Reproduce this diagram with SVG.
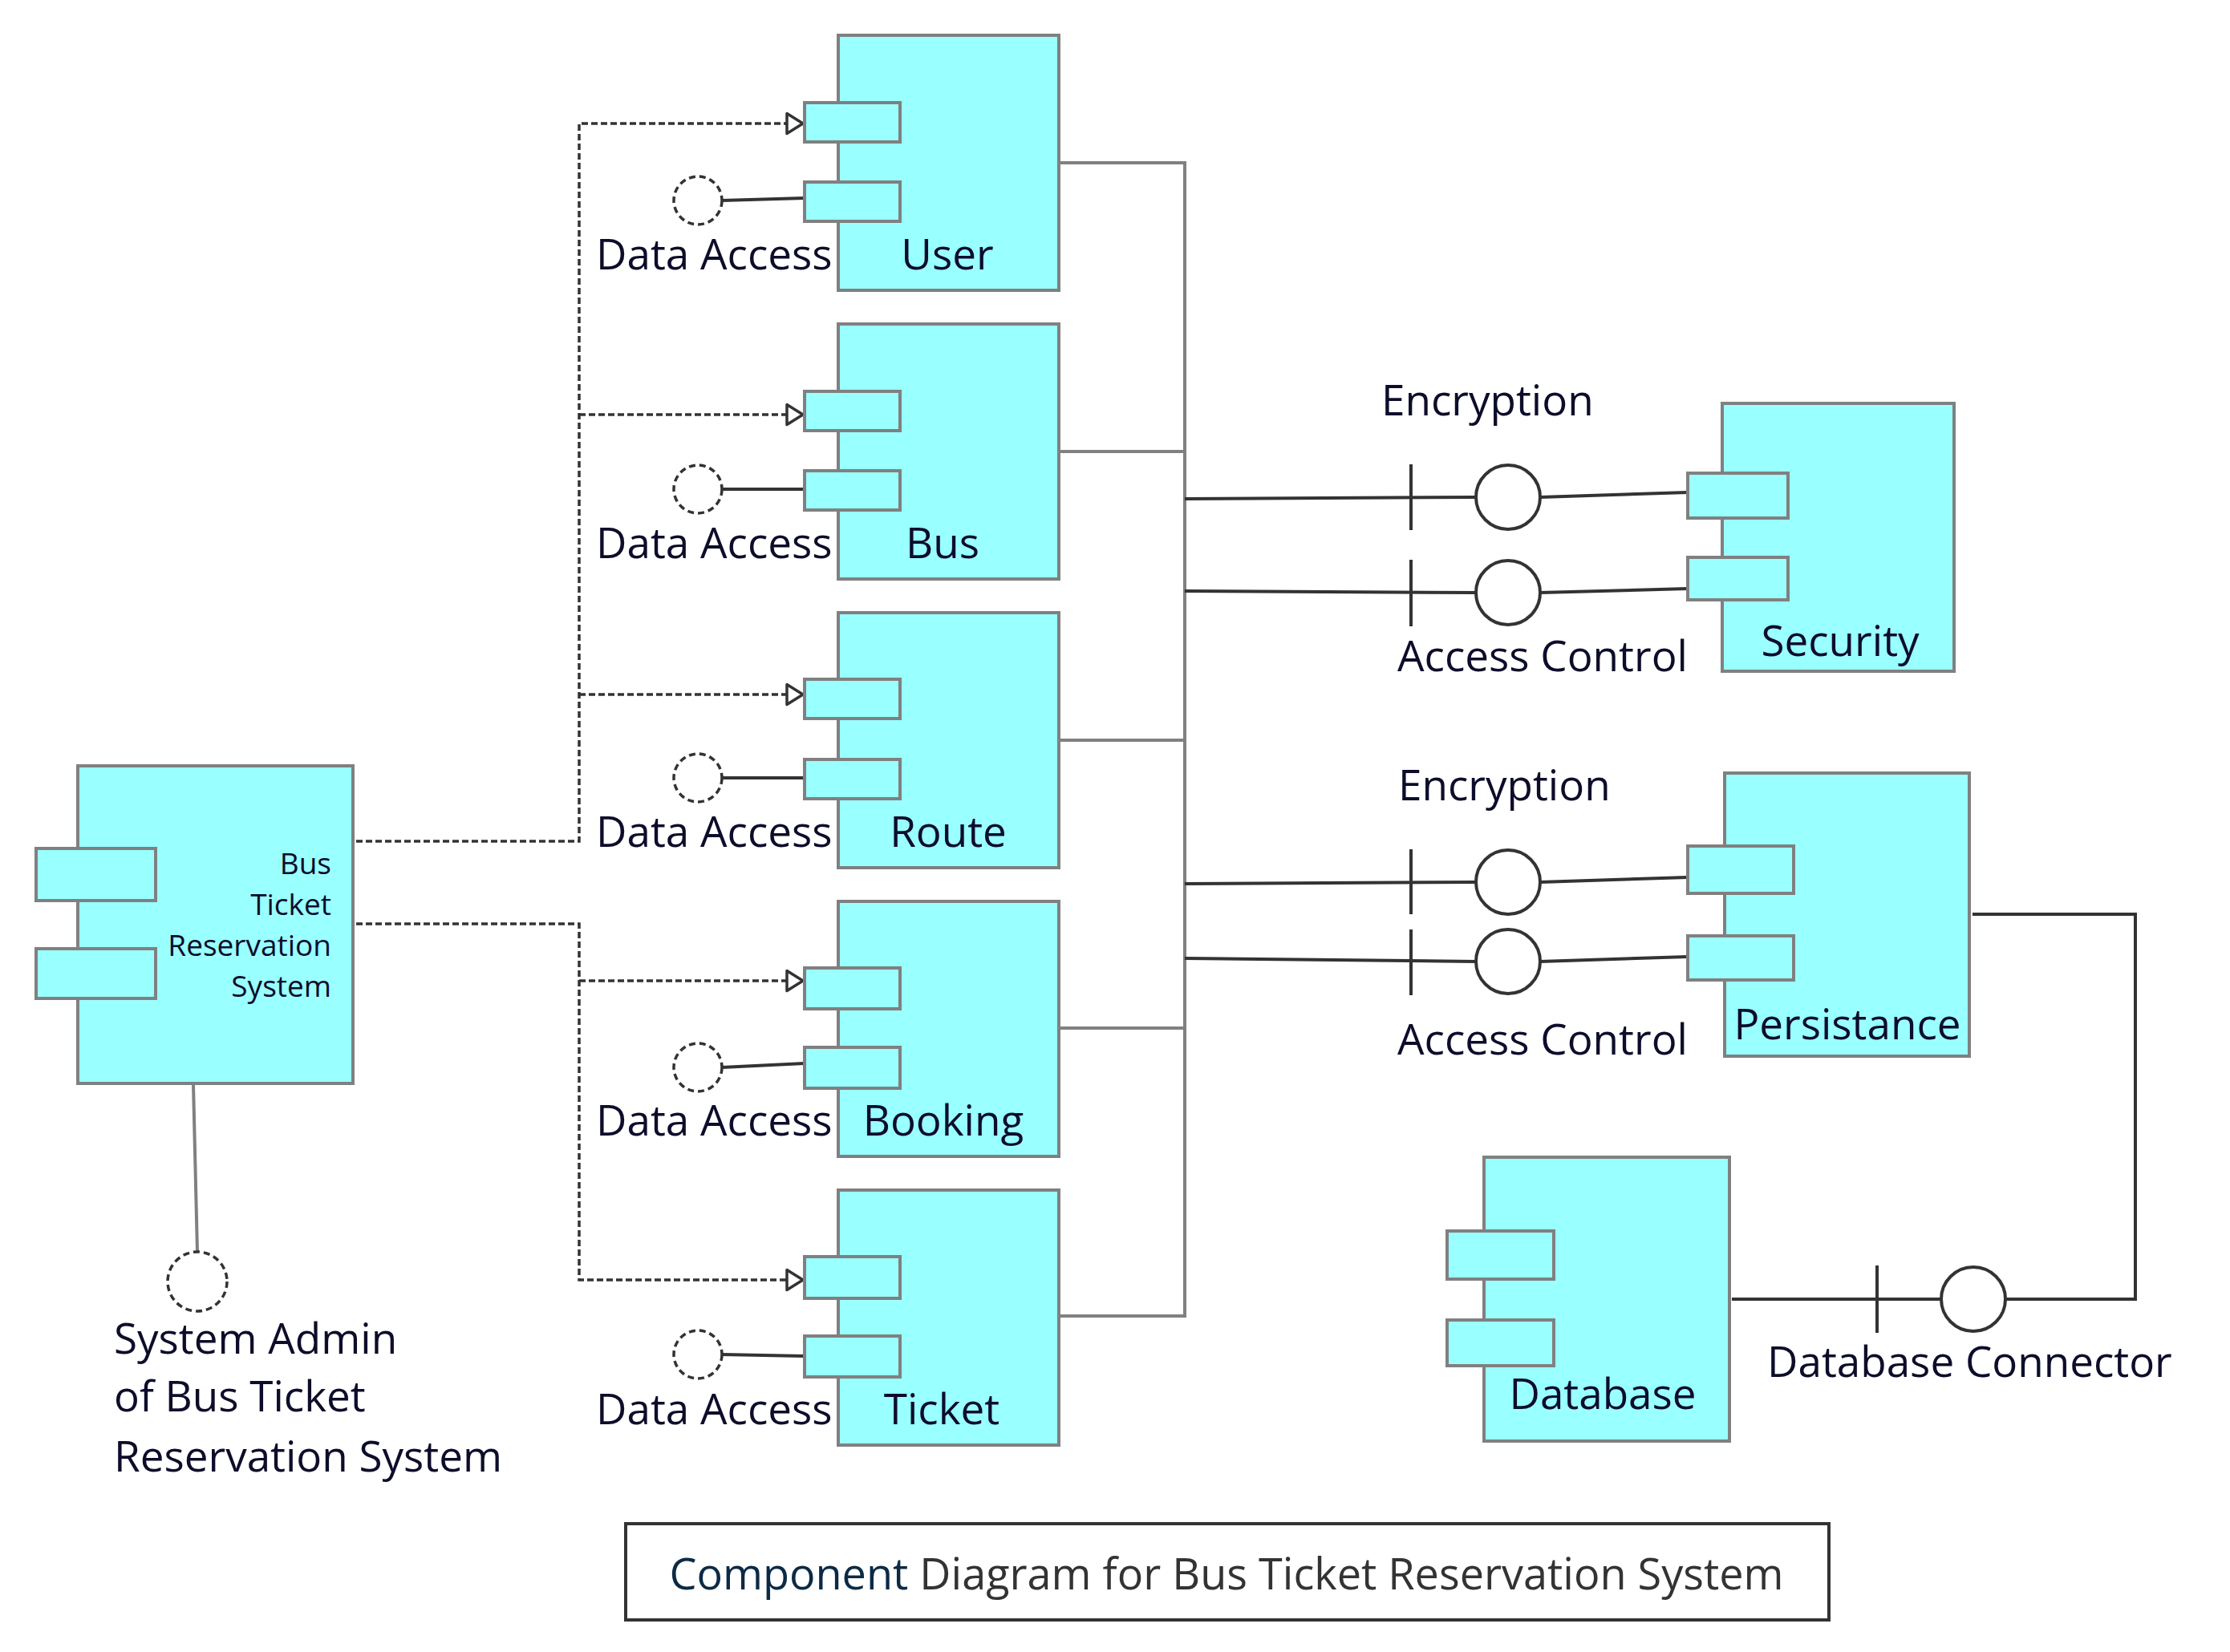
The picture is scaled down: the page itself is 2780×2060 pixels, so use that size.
<svg xmlns="http://www.w3.org/2000/svg" width="2780" height="2060" viewBox="0 0 2780 2060">
<style>
text{font-family:"Open Sans","Noto Sans","Liberation Sans",sans-serif;fill:#0d0d2b;font-size:53px}
.box{fill:#99ffff;stroke:#808080;stroke-width:4}
.gl{fill:none;stroke:#808080;stroke-width:4}
.dl{fill:none;stroke:#333333;stroke-width:4}
.dash{fill:none;stroke:#333333;stroke-width:3.5;stroke-dasharray:8 4}
.ball{fill:#ffffff;stroke:#333333;stroke-width:4}
.dball{fill:#ffffff;stroke:#333333;stroke-width:3.5;stroke-dasharray:8 5}
.sm{font-size:37px}
.mid{text-anchor:middle}
.end{text-anchor:end}
</style>
<defs>
<marker id="tri" viewBox="-3 -3 26 31" refX="20" refY="12.5" markerWidth="26" markerHeight="31" markerUnits="userSpaceOnUse" orient="auto">
<path d="M0,0 L20,12.5 L0,25 Z" fill="#ffffff" stroke="#333333" stroke-width="3.5" stroke-linejoin="round"/>
</marker>
</defs>
<rect width="2780" height="2060" fill="#ffffff"/>

<g id="connectors">
<path class="dash" d="M444,1049 H722 V154 H1001" marker-end="url(#tri)"/>
<path class="dash" d="M722,517 H1001" marker-end="url(#tri)"/>
<path class="dash" d="M722,866 H1001" marker-end="url(#tri)"/>
<path class="dash" d="M444,1152 H722 V1596 H1001" marker-end="url(#tri)"/>
<path class="dash" d="M722,1223 H1001" marker-end="url(#tri)"/>
<path class="gl" d="M1322,203 H1477 M1322,563 H1477 M1322,923 H1477 M1322,1282 H1477 M1322,1641 H1477 M1477,201 V1643"/>
<path class="gl" d="M241,1352 L246,1561"/>
<path class="dl" d="M900,250 L1003,247"/>
<path class="dl" d="M900,610 L1003,610"/>
<path class="dl" d="M900,970 L1003,970"/>
<path class="dl" d="M900,1331 L1003,1326"/>
<path class="dl" d="M900,1689 L1003,1691"/>
<path class="dl" d="M1477,622 L1840,620 M1920,620 L2104,614"/>
<path class="dl" d="M1477,737 L1840,739 M1920,739 L2104,734"/>
<path class="dl" d="M1477,1102 L1840,1100 M1920,1100 L2104,1094"/>
<path class="dl" d="M1477,1195 L1840,1199 M1920,1199 L2104,1193"/>
<path class="dl" d="M1759,579 V661 M1759,698 V781 M1759,1059 V1140 M1759,1159 V1241"/>
<path class="dl" d="M2459,1140 H2662 V1620 H2500"/>
<path class="dl" d="M2159,1620 H2420 M2340,1578 V1662"/>
</g>

<g id="admin-interface">
<circle class="dball" cx="246" cy="1598" r="37"/>
<text x="142" y="1688">System Admin</text>
<text x="142" y="1760">of Bus Ticket</text>
<text x="142" y="1835">Reservation System</text>
</g>

<g id="system">
<rect class="box" x="97" y="955" width="343" height="396"/>
<rect class="box" x="45" y="1058" width="149" height="65"/>
<rect class="box" x="45" y="1183" width="149" height="62"/>
<text class="sm end" x="413" y="1090">Bus</text>
<text class="sm end" x="413" y="1141">Ticket</text>
<text class="sm end" x="413" y="1192">Reservation</text>
<text class="sm end" x="413" y="1243">System</text>
</g>

<g id="user">
<rect class="box" x="1045" y="44" width="275" height="318"/>
<rect class="box" x="1003" y="128" width="119" height="49"/>
<rect class="box" x="1003" y="227" width="119" height="49"/>
<circle class="dball" cx="870" cy="250" r="30"/>
<text x="743" y="336">Data Access</text>
<text class="mid" x="1181" y="336">User</text>
</g>

<g id="bus">
<rect class="box" x="1045" y="404" width="275" height="318"/>
<rect class="box" x="1003" y="488" width="119" height="49"/>
<rect class="box" x="1003" y="587" width="119" height="49"/>
<circle class="dball" cx="870" cy="610" r="30"/>
<text x="743" y="696">Data Access</text>
<text class="mid" x="1175" y="696">Bus</text>
</g>

<g id="route">
<rect class="box" x="1045" y="764" width="275" height="318"/>
<rect class="box" x="1003" y="847" width="119" height="49"/>
<rect class="box" x="1003" y="947" width="119" height="49"/>
<circle class="dball" cx="870" cy="970" r="30"/>
<text x="743" y="1056">Data Access</text>
<text class="mid" x="1182" y="1056">Route</text>
</g>

<g id="booking">
<rect class="box" x="1045" y="1124" width="275" height="318"/>
<rect class="box" x="1003" y="1207" width="119" height="51"/>
<rect class="box" x="1003" y="1306" width="119" height="51"/>
<circle class="dball" cx="870" cy="1331" r="30"/>
<text x="743" y="1416">Data Access</text>
<text class="mid" x="1176" y="1416">Booking</text>
</g>

<g id="ticket">
<rect class="box" x="1045" y="1484" width="275" height="318"/>
<rect class="box" x="1003" y="1567" width="119" height="52"/>
<rect class="box" x="1003" y="1666" width="119" height="51"/>
<circle class="dball" cx="870" cy="1689" r="30"/>
<text x="743" y="1776">Data Access</text>
<text class="mid" x="1174" y="1776">Ticket</text>
</g>

<g id="security">
<rect class="box" x="2147" y="503" width="289" height="334"/>
<rect class="box" x="2104" y="590" width="125" height="56"/>
<rect class="box" x="2104" y="695" width="125" height="53"/>
<text class="mid" x="2294" y="818">Security</text>
<circle class="ball" cx="1880" cy="620" r="40"/>
<circle class="ball" cx="1880" cy="739" r="40"/>
<text x="1722" y="518">Encryption</text>
<text x="1742" y="837">Access Control</text>
</g>

<g id="persistance">
<rect class="box" x="2150" y="964" width="305" height="353"/>
<rect class="box" x="2104" y="1055" width="132" height="59"/>
<rect class="box" x="2104" y="1167" width="132" height="55"/>
<text class="mid" x="2303" y="1296">Persistance</text>
<circle class="ball" cx="1880" cy="1100" r="40"/>
<circle class="ball" cx="1880" cy="1199" r="40"/>
<text x="1743" y="998">Encryption</text>
<text x="1742" y="1315">Access Control</text>
</g>

<g id="database">
<rect class="box" x="1850" y="1443" width="306" height="354"/>
<rect class="box" x="1804" y="1535" width="133" height="60"/>
<rect class="box" x="1804" y="1646" width="133" height="57"/>
<text class="mid" x="1998" y="1757">Database</text>
<circle class="ball" cx="2460" cy="1620" r="40"/>
<text x="2203" y="1717">Database Connector</text>
</g>

<g id="title">
<rect x="780" y="1900" width="1500" height="120" fill="#ffffff" stroke="#333333" stroke-width="4"/>
<text class="mid" x="1529" y="1982" style="fill:#333333;font-size:54px"><tspan style="fill:#0b2a45">Component</tspan> Diagram for Bus Ticket Reservation System</text>
</g>
</svg>
